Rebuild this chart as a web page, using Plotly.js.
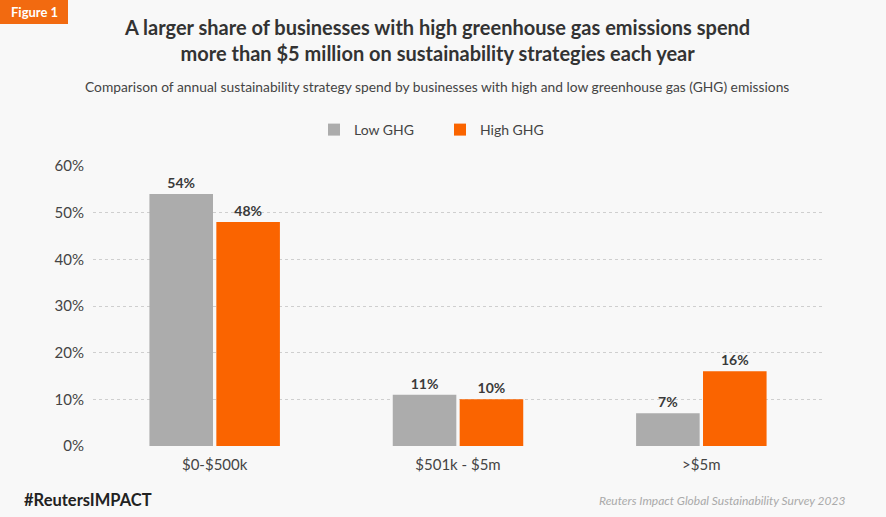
<!DOCTYPE html>
<html>
<head>
<meta charset="utf-8">
<script src="https://cdn.plot.ly/plotly-3.0.1.min.js"></script>
<style>
  html, body { margin: 0; padding: 0; background: #f8f8f8; }
  #myDiv { width: 886px; height: 517px; }
</style>
</head>
<body>
<div id="myDiv"></div>
<script>
// spend brackets and share of businesses (%)
var categories = ['$0-$500k', '$501k - $5m', '>$5m'];
var lowGHG = [54, 11, 7];
var highGHG = [48, 10, 16];
var yTicks = [0, 10, 20, 30, 40, 50, 60];

var fontFam = 'Lato, "Open Sans", sans-serif';

function barTrace(name, values, color) {
  return {
    type: 'bar',
    name: name,
    x: categories,
    y: values,
    marker: {color: color},
    text: values.map(function(v) { return '<b>' + v + '%</b>'; }),
    textposition: 'outside',
    cliponaxis: false,
    textfont: {family: fontFam, size: 14, color: '#3a3a3a'},
    hoverinfo: 'skip'
  };
}

var plotData = [
  barTrace('Low GHG', lowGHG, '#acacac'),
  barTrace('High GHG', highGHG, '#fa6400')
];

// plot area: x 93..823, y 166..446
var L = 93, R = 823, T = 166, B = 446;
var W = R - L, H = B - T;
function px(x) { return (x - L) / W; }
function py(y) { return (B - y) / H; }

var layout = {
  width: 886,
  height: 517,
  margin: {l: L, r: 886 - R, t: T, b: 517 - B},
  paper_bgcolor: '#f8f8f8',
  plot_bgcolor: '#f8f8f8',
  font: {family: fontFam, color: '#444'},
  barmode: 'group',
  bargap: 0.45,
  bargroupgap: 0.05,
  showlegend: true,
  legend: {
    orientation: 'h',
    x: px(440),
    xanchor: 'center',
    y: py(130),
    yanchor: 'middle',
    font: {size: 14, color: '#444'},
    bgcolor: 'rgba(0,0,0,0)',
    traceorder: 'normal',
    entrywidth: 81
  },
  xaxis: {
    range: [-0.5, 2.5],
    showgrid: false,
    zeroline: false,
    showline: false,
    ticks: '',
    ticklabelstandoff: 8,
    tickfont: {size: 15, color: '#444'},
    fixedrange: true
  },
  yaxis: {
    range: [0, 60],
    tickvals: yTicks,
    ticktext: yTicks.map(function(v) { return v + '%'; }),
    showgrid: true,
    gridcolor: '#cfcfcf',
    griddash: 'dot',
    gridwidth: 1,
    zeroline: false,
    showline: false,
    ticks: '',
    ticklabelstandoff: 8,
    tickfont: {size: 15, color: '#444'},
    fixedrange: true
  },
  shapes: [
    {type: 'rect', xref: 'paper', yref: 'paper', x0: px(0), x1: px(68),
     y0: py(24), y1: py(0), fillcolor: '#f26a10', line: {width: 0}, layer: 'below'}
  ],
  annotations: [
    {xref: 'paper', yref: 'paper', x: px(34), y: py(12), xanchor: 'center', yanchor: 'middle',
     text: '<b>Figure 1</b>', showarrow: false, font: {size: 13, color: '#ffffff'}},
    {xref: 'paper', yref: 'paper', x: px(437), y: py(40), xanchor: 'center', yanchor: 'middle',
     text: '<b>A larger share of businesses with high greenhouse gas emissions spend<br>more than $5 million on sustainability strategies each year</b>',
     showarrow: false, font: {size: 20, color: '#333'}},
    {xref: 'paper', yref: 'paper', x: px(437), y: py(87), xanchor: 'center', yanchor: 'middle',
     text: 'Comparison of annual sustainability strategy spend by businesses with high and low greenhouse gas (GHG) emissions',
     showarrow: false, font: {size: 13.8, color: '#444'}},
    {xref: 'paper', yref: 'paper', x: px(22), y: py(500), xanchor: 'left', yanchor: 'middle',
     text: '<b>#ReutersIMPACT</b>', showarrow: false, font: {size: 16.5, color: '#222'}},
    {xref: 'paper', yref: 'paper', x: px(847), y: py(500), xanchor: 'right', yanchor: 'middle',
     text: '<i>Reuters Impact Global Sustainability Survey 2023</i>', showarrow: false, font: {size: 12, color: '#aaa'}}
  ]
};

var config = {displayModeBar: false, responsive: false, staticPlot: true};

Plotly.newPlot('myDiv', plotData, layout, config);
</script>
</body>
</html>
